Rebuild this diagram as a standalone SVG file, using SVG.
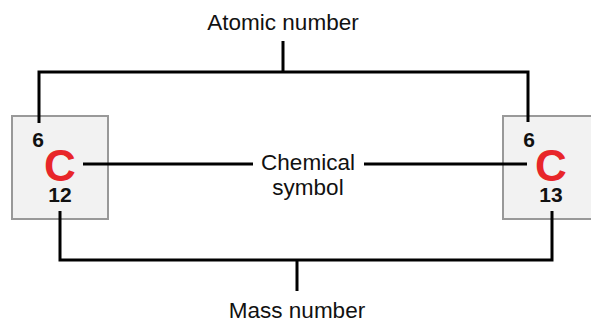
<svg xmlns="http://www.w3.org/2000/svg" width="591" height="322" viewBox="0 0 591 322">
<style>
.box{fill:#f2f2f2;stroke:#999;stroke-width:2}
.ln{fill:none;stroke:#000;stroke-width:3}
.sym{font-family:"Liberation Sans",Arial,sans-serif;font-weight:bold;font-size:44px;fill:#e8262a;text-anchor:middle}
.num{font-family:"Liberation Sans",Arial,sans-serif;font-weight:bold;font-size:21px;fill:#111;text-anchor:middle}
.lbl{font-family:"Liberation Sans",Arial,sans-serif;font-size:22.5px;fill:#111;text-anchor:middle}
</style>
<rect width="591" height="322" fill="#fff"/>
<g id="carbon12">
<rect class="box" x="12" y="116" width="96" height="103"/>
<text class="num" x="38" y="147">6</text>
<text class="sym" x="60" y="181">C</text>
<text class="num" x="60" y="202">12</text>
</g>
<g id="carbon13">
<rect class="box" x="503" y="116" width="96" height="103"/>
<text class="num" x="529" y="147">6</text>
<text class="sym" x="551" y="181">C</text>
<text class="num" x="551" y="202">13</text>
</g>
<g id="atomic-number">
<text class="lbl" x="283" y="30">Atomic number</text>
</g>
<g id="chemical-symbol">
<text class="lbl" x="308" y="170">Chemical</text>
<text class="lbl" x="308" y="195">symbol</text>
</g>
<g id="mass-number">
<text class="lbl" x="297" y="318">Mass number</text>
</g>
<g id="connectors">
<path class="ln" d="M39,123 V72 H528 V122 M283,41 V72"/>
<path class="ln" d="M60,211 V260 H552 V211 M297,260 V291"/>
<path class="ln" d="M83,164 H253 M364,164 H527"/>
</g>
</svg>
